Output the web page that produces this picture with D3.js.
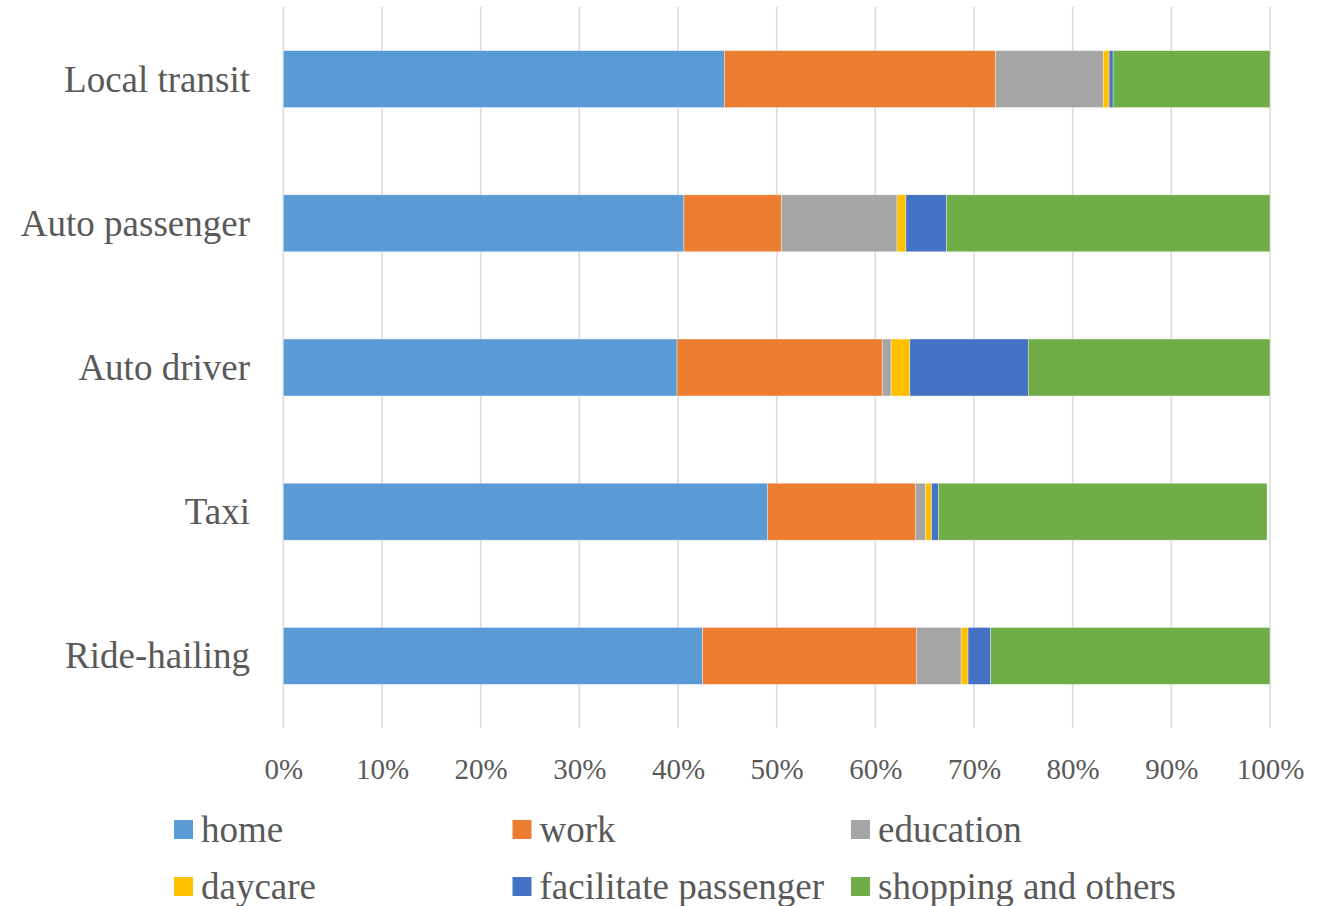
<!DOCTYPE html>
<html>
<head>
<meta charset="utf-8">
<script src="https://cdn.jsdelivr.net/npm/d3@7"></script>
<style>
  html, body { margin: 0; padding: 0; background: #fff; }
  svg { display: block; }
</style>
</head>
<body>
<svg id="chart" width="1329" height="906"></svg>
<script>
// Trip purpose shares (%) by travel mode
const modes = ["Local transit", "Auto passenger", "Auto driver", "Taxi", "Ride-hailing"];
const purposes = ["home", "work", "education", "daycare", "facilitate passenger", "shopping and others"];
const home        = [44.7, 40.6, 39.9, 49.1, 42.5];
const work        = [27.5,  9.9, 20.8, 15.0, 21.7];
const education   = [10.9, 11.7,  0.9,  1.0,  4.5];
const daycare     = [ 0.6,  0.9,  1.9,  0.6,  0.7];
const facilitate  = [ 0.4,  4.1, 12.0,  0.7,  2.3];
const shopping    = [15.9, 32.8, 24.5, 33.3, 28.3];
const tickValues  = [0, 10, 20, 30, 40, 50, 60, 70, 80, 90, 100];
const colors = ["#5B9BD5", "#ED7D31", "#A5A5A5", "#FFC000", "#4472C4", "#70AD47"];

const seriesValues = [home, work, education, daycare, facilitate, shopping];
const rows = modes.map((m, i) => {
  const r = { mode: m };
  purposes.forEach((p, j) => { r[p] = seriesValues[j][i]; });
  return r;
});

const svg = d3.select("#chart");
const textColor = "#595959";
const serif = "'Liberation Serif', 'Times New Roman', serif";

const x = d3.scaleLinear().domain([0, 100]).range([283.3, 1270]);
const y = d3.scaleBand().domain(modes).range([7, 728]).paddingInner(0.605).paddingOuter(0.3025);

// vertical gridlines
svg.append("g")
  .selectAll("line")
  .data(tickValues)
  .join("line")
  .attr("x1", d => x(d)).attr("x2", d => x(d))
  .attr("y1", 7).attr("y2", 728)
  .attr("stroke", "#d9d9d9")
  .attr("stroke-width", 1.5);

// stacked bars
const stacked = d3.stack().keys(purposes)(rows);
svg.append("g")
  .selectAll("g")
  .data(stacked)
  .join("g")
  .attr("fill", (d, i) => colors[i])
  .selectAll("rect")
  .data(d => d)
  .join("rect")
  .attr("x", d => x(d[0]))
  .attr("y", d => y(d.data.mode))
  .attr("width", d => x(d[1]) - x(d[0]))
  .attr("height", y.bandwidth())
  .attr("stroke", "#ffffff")
  .attr("stroke-opacity", 0.6)
  .attr("stroke-width", 0.6);

// category axis labels
svg.append("g")
  .selectAll("text")
  .data(modes)
  .join("text")
  .attr("x", 250)
  .attr("y", d => y(d) + y.bandwidth() / 2)
  .attr("text-anchor", "end")
  .attr("dominant-baseline", "central")
  .attr("font-family", serif)
  .attr("font-size", 37)
  .attr("fill", textColor)
  .text(d => d);

// percentage axis labels
const xAxis = d3.axisBottom(x).tickValues(tickValues).tickFormat(d => d + "%").tickSize(0).tickPadding(0);
const ax = svg.append("g").attr("transform", "translate(0,758)").call(xAxis);
ax.select(".domain").remove();
ax.selectAll("text")
  .attr("font-family", serif)
  .attr("font-size", 29)
  .attr("fill", textColor)
  .attr("dy", "0.71em");

// legend
const legend = svg.append("g");
const colX = [174, 512.5, 851];
const rowY = [820, 877];
purposes.forEach((p, i) => {
  const gx = colX[i % 3], gy = rowY[Math.floor(i / 3)];
  legend.append("rect")
    .attr("x", gx).attr("y", gy)
    .attr("width", 19).attr("height", 19)
    .attr("fill", colors[i]);
  legend.append("text")
    .attr("x", gx + 27).attr("y", gy + 9.5)
    .attr("dominant-baseline", "central")
    .attr("font-family", serif)
    .attr("font-size", 37)
    .attr("fill", textColor)
    .text(p);
});
</script>
</body>
</html>
